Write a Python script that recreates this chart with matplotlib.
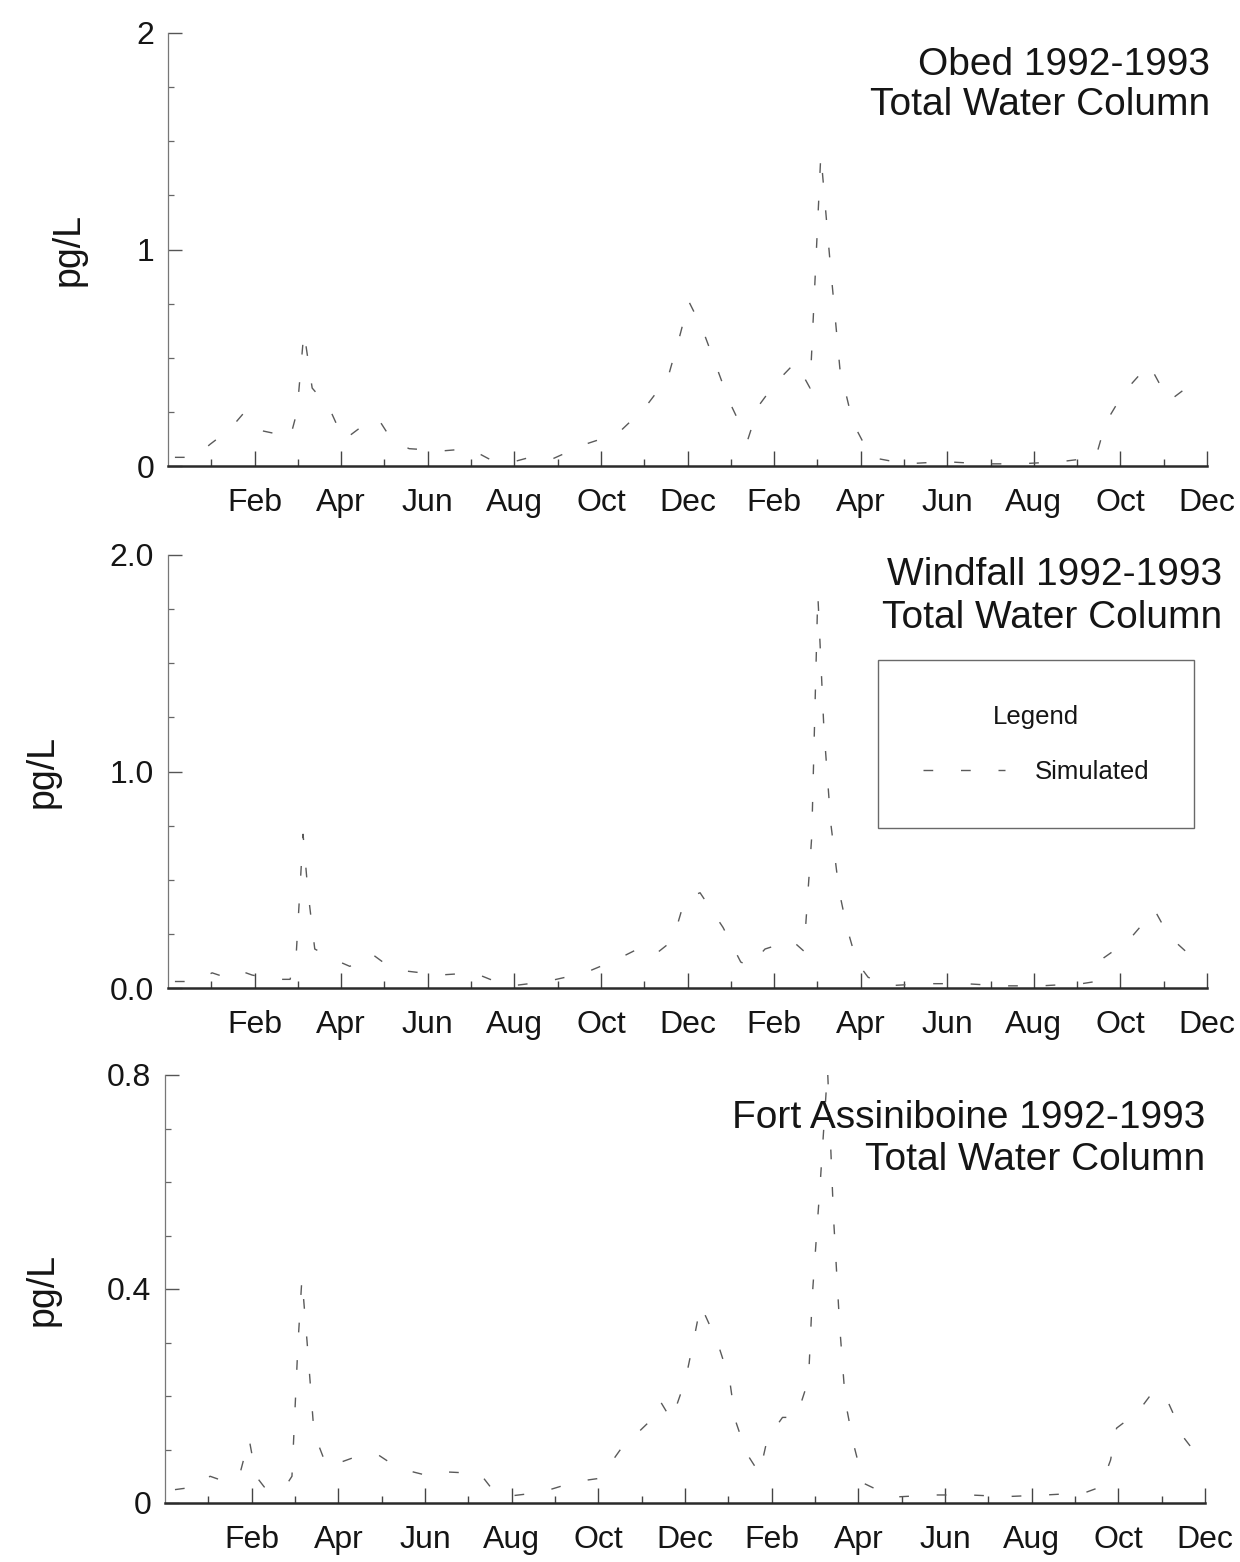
import matplotlib
matplotlib.use("Agg")
import matplotlib.pyplot as plt

plt.rcParams['font.family'] = ['Liberation Sans', 'DejaVu Sans']

# ---------------- data (x in months since Jan 1992) ----------------
obed_month = [0.16, 0.62, 0.97, 1.43, 1.73, 2.0, 2.47, 2.82, 2.98, 3.14, 3.33, 3.72,
              4.06, 4.46, 4.85, 5.17, 5.57, 6.35, 6.97, 7.44, 7.99, 8.36, 8.85, 9.63,
              10.39, 11.02, 11.55, 11.82, 12.03, 12.33, 12.61, 12.96, 13.39, 13.65, 14.02,
              14.50, 14.83, 15.08, 15.29, 15.52, 15.82, 16.24, 17.04, 17.94, 18.85, 19.68,
              20.62, 21.43, 21.66, 22.08, 22.66, 23.12, 23.65, 23.83]
obed_value = [0.04, 0.04, 0.10, 0.17, 0.24, 0.17, 0.15, 0.13, 0.25, 0.62, 0.36, 0.27,
              0.12, 0.18, 0.22, 0.12, 0.08, 0.07, 0.08, 0.03, 0.02, 0.04, 0.03, 0.10,
              0.15, 0.27, 0.41, 0.60, 0.76, 0.64, 0.49, 0.30, 0.12, 0.28, 0.38,
              0.48, 0.36, 1.44, 0.95, 0.45, 0.20, 0.04, 0.01, 0.02, 0.01, 0.01,
              0.02, 0.04, 0.20, 0.34, 0.47, 0.30, 0.38, 0.36]

windfall_month = [0.16, 0.62, 1.02, 1.32, 1.66, 1.94, 2.42, 2.82, 2.96, 3.12, 3.23, 3.39,
                  3.97, 4.2, 4.69, 5.03, 5.43, 6.28, 7.07, 7.44, 7.94, 8.75, 9.63, 10.35,
                  10.85, 11.22, 11.66, 11.94, 12.29, 12.82, 13.23, 13.44, 13.79, 14.41,
                  14.69, 14.87, 15.01, 15.15, 15.31, 15.5, 15.68, 15.91, 16.17, 16.58,
                  17.51, 18.41, 19.26, 20.16, 21.11, 21.43, 21.62, 22.19, 22.79, 23.12,
                  23.56, 23.75]
windfall_value = [0.03, 0.03, 0.07, 0.05, 0.08, 0.06, 0.04, 0.04, 0.15, 0.71, 0.45, 0.18,
                  0.12, 0.10, 0.16, 0.11, 0.08, 0.06, 0.07, 0.04, 0.01, 0.03, 0.07, 0.13,
                  0.18, 0.15, 0.22, 0.41, 0.44, 0.28, 0.12, 0.10, 0.18, 0.22,
                  0.17, 0.70, 1.82, 1.20, 0.76, 0.45, 0.28, 0.12, 0.05, 0.01,
                  0.02, 0.02, 0.01, 0.01, 0.02, 0.03, 0.14, 0.22, 0.36, 0.24,
                  0.16, 0.14]

fort_month = [0.23, 0.69, 0.85, 1.04, 1.39, 1.73, 1.94, 2.10, 2.29, 2.45, 2.77, 2.93,
              3.07, 3.16, 3.28, 3.44, 3.74, 4.39, 4.92, 5.20, 5.73, 6.12, 6.51, 7.27,
              7.51, 7.85, 8.68, 9.49, 10.02, 10.16, 10.51, 11.15, 11.43, 11.69, 12.01,
              12.19, 12.36, 12.75, 13.03, 13.16, 13.42, 13.72, 13.90, 14.25, 14.57,
              14.85, 14.94, 15.13, 15.29, 15.43, 15.57, 15.70, 15.89, 16.12, 16.79,
              17.74, 18.57, 19.42, 20.32, 21.22, 21.59, 21.82, 21.96, 22.45, 22.82,
              23.14, 23.53, 23.72]
fort_value = [0.025, 0.03, 0.037, 0.05, 0.04, 0.055, 0.12, 0.05, 0.03, 0.025, 0.03, 0.05,
              0.30, 0.42, 0.30, 0.13, 0.067, 0.086, 0.09, 0.075, 0.058, 0.05, 0.058, 0.055,
              0.03, 0.012, 0.02, 0.04, 0.046, 0.06, 0.10, 0.15, 0.19, 0.155, 0.23,
              0.30, 0.37, 0.30, 0.23, 0.155, 0.093, 0.055, 0.12, 0.16, 0.16,
              0.23, 0.39, 0.61, 0.81, 0.53, 0.33, 0.19, 0.11, 0.037, 0.011,
              0.015, 0.015, 0.012, 0.015, 0.019, 0.03, 0.08, 0.14, 0.17, 0.21,
              0.19, 0.12, 0.10]

month_tick_pos = [2, 4, 6, 8, 10, 12, 14, 16, 18, 20, 22, 24]
month_tick_labels = ['Feb', 'Apr', 'Jun', 'Aug', 'Oct', 'Dec',
                     'Feb', 'Apr', 'Jun', 'Aug', 'Oct', 'Dec']

site_titles = ['Obed 1992-1993', 'Windfall 1992-1993', 'Fort Assiniboine 1992-1993']
subtitle = 'Total Water Column'

# ---------------- figure ----------------
W, H = 1240, 1562
fig = plt.figure(figsize=(W / 100, H / 100), dpi=100)
fig.patch.set_facecolor('white')


def px_axes(left, right, top, bottom):
    return fig.add_axes([left / W, 1 - bottom / H, (right - left) / W, (bottom - top) / H])


TEXT_COLOR = '#151515'
LINE_COLOR = '#5a5a5a'
DASHES = (7.0, 20.0)

panels = [
    dict(box=(168, 1207, 33, 466), x=obed_month, y=obed_value, ylim=(0, 2),
         major=[0, 1, 2], minor=[i * 0.25 for i in range(9)], fmt=lambda v: f'{v:g}',
         title_x=1.003, title_y=(0.926, 0.834), ylabel_x=-0.096),
    dict(box=(168, 1207, 555, 988), x=windfall_month, y=windfall_value, ylim=(0, 2),
         major=[0, 1, 2], minor=[i * 0.25 for i in range(9)], fmt=lambda v: f'{v:.1f}',
         title_x=1.0144, title_y=(0.954, 0.854), ylabel_x=-0.121),
    dict(box=(165, 1205, 1075, 1503), x=fort_month, y=fort_value, ylim=(0, 0.8),
         major=[0, 0.4, 0.8], minor=[i * 0.1 for i in range(9)],
         fmt=lambda v: '0' if v == 0 else f'{v:.1f}',
         title_x=1.0, title_y=(0.8995, 0.801), ylabel_x=-0.118),
]

for i, p in enumerate(panels):
    ax = px_axes(*p['box'])
    line, = ax.plot(p['x'], p['y'], color=LINE_COLOR, lw=1.0, dashes=DASHES,
                    label='Simulated')
    ax.set_xlim(0, 24)
    ax.set_ylim(*p['ylim'])

    for s in ('top', 'right'):
        ax.spines[s].set_visible(False)
    ax.spines['left'].set_color('#777777')
    ax.spines['left'].set_linewidth(0.9)
    ax.spines['bottom'].set_color('#2a2a2a')
    ax.spines['bottom'].set_linewidth(1.8)

    ax.set_xticks(month_tick_pos)
    ax.set_xticklabels(month_tick_labels)
    ax.set_xticks(list(range(1, 24, 2)), minor=True)
    ax.tick_params(axis='x', which='major', direction='in', length=11, width=1.0,
                   color='#444444', pad=16, labelsize=23, labelcolor=TEXT_COLOR)
    ax.tick_params(axis='x', which='minor', direction='in', length=5, width=1.0,
                   color='#444444')

    ax.set_yticks(p['major'])
    ax.set_yticklabels([p['fmt'](v) for v in p['major']])
    ax.set_yticks(p['minor'], minor=True)
    ax.tick_params(axis='y', which='major', direction='in', length=10, width=1.0,
                   color='#555555', pad=10, labelsize=23, labelcolor=TEXT_COLOR)
    ax.tick_params(axis='y', which='minor', direction='in', length=4, width=0.9,
                   color='#666666')

    ax.set_ylabel('pg/L', fontsize=27, color=TEXT_COLOR, va='center')
    ax.yaxis.set_label_coords(p['ylabel_x'], 0.5)

    ax.text(p['title_x'], p['title_y'][0], site_titles[i], transform=ax.transAxes,
            ha='right', va='center', fontsize=28, color=TEXT_COLOR)
    ax.text(p['title_x'], p['title_y'][1], subtitle, transform=ax.transAxes,
            ha='right', va='center', fontsize=28, color=TEXT_COLOR)

    if i == 1:
        leg = ax.legend(handles=[line], labels=['Simulated'], title='Legend',
                        loc='upper left', bbox_to_anchor=(0.683, 0.7575),
                        frameon=True, fancybox=False, shadow=False,
                        fontsize=18.5, title_fontsize=18.5,
                        borderpad=1.75, labelspacing=1.2, handlelength=3.2,
                        handletextpad=1.15, borderaxespad=0)
        leg.get_frame().set_edgecolor('#444444')
        leg.get_frame().set_linewidth(1.0)
        leg.get_title().set_color(TEXT_COLOR)
        for t in leg.get_texts():
            t.set_color(TEXT_COLOR)
        leg._legend_box.sep = 22

fig.savefig('out.png', dpi=100, facecolor='white')
